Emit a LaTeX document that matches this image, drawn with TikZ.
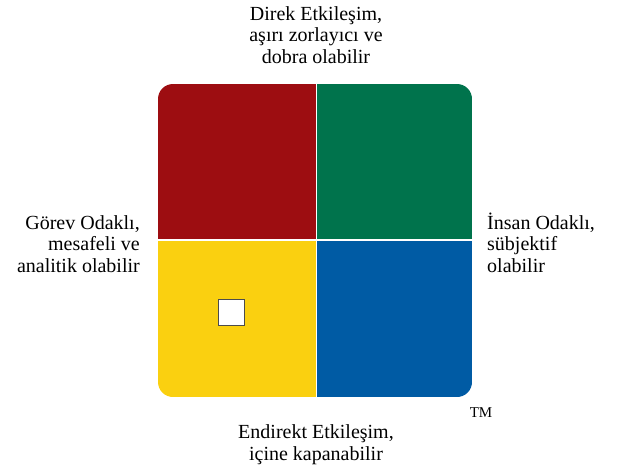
\documentclass[tikz,border=0pt]{standalone}
\usepackage{fontspec}
\setmainfont{Liberation Serif}
\definecolor{qred}{RGB}{157,13,17}
\definecolor{qgreen}{RGB}{0,115,76}
\definecolor{qyellow}{RGB}{250,208,16}
\definecolor{qblue}{RGB}{0,91,164}
\begin{document}
\begin{tikzpicture}[x=1pt,y=-1pt,
  lbl/.style={font=\fontsize{20}{21.7}\selectfont, inner sep=0pt}]
\useasboundingbox (0,0) rectangle (620,466);
\begin{scope}
  \clip[rounded corners=15pt] (158,84) rectangle (472,397);
  \fill[qred] (158,84) rectangle (315.5,239.3);
  \fill[qgreen] (316.6,84) rectangle (472,239.3);
  \fill[qyellow] (158,240.8) rectangle (315.5,397);
  \fill[qblue] (316.6,240.8) rectangle (472,397);
\end{scope}
\node[draw=black!70, line width=1pt, fill=white, minimum size=26pt, inner sep=0pt] (box) at (231.5,312.5) {};
\node[lbl, align=center, anchor=base] (top) at (316,63.5) {Direk Etkileşim,\\aşırı zorlayıcı ve\\dobra olabilir};
\node[lbl, align=right, anchor=base east] (left) at (140,272.5) {Görev Odaklı,\\mesafeli ve\\analitik olabilir};
\node[lbl, align=left, anchor=base west] (right) at (487,272.5) {İnsan Odaklı,\\sübjektif\\olabilir};
\node[lbl, align=center, anchor=base] (bottom) at (316,460) {Endirekt Etkileşim,\\içine kapanabilir};
\node[font=\fontsize{15}{16}\selectfont, inner sep=0pt, anchor=base] (tm) at (481,417) {TM};
\end{tikzpicture}
\end{document}
